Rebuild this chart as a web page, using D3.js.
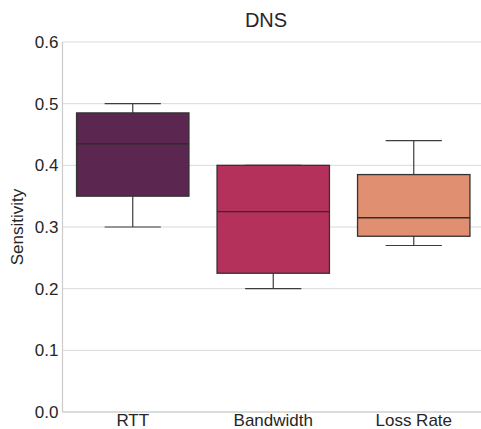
<!DOCTYPE html>
<html><head><meta charset="utf-8">
<script src="https://cdn.jsdelivr.net/npm/d3@7"></script>
<style>body{margin:0;background:#fff}svg{display:block;font-family:"Liberation Sans",Arial,sans-serif}</style>
</head><body><svg id="c" width="481" height="429"></svg>
<script>
const categories = ["RTT", "Bandwidth", "Loss Rate"];
const whiskerLow = [0.30, 0.20, 0.27];
const q1 = [0.35, 0.225, 0.285];
const median = [0.435, 0.325, 0.315];
const q3 = [0.485, 0.40, 0.385];
const whiskerHigh = [0.50, 0.40, 0.44];
const colors = ["#5B2750", "#B3315A", "#E08F70"];
const yTicks = [0.0, 0.1, 0.2, 0.3, 0.4, 0.5, 0.6];

const svg = d3.select("#c");
const mLeft = 62.5, mRight = 484, mTop = 42, mBottom = 412;
const x = d3.scaleBand().domain(categories).range([mLeft, mRight]).paddingInner(0).paddingOuter(0);
const y = d3.scaleLinear().domain([0, 0.6]).range([mBottom, mTop]);
const FONT = "Liberation Sans, Arial, sans-serif";

// grid
svg.append("g").selectAll("line").data(yTicks).join("line")
  .attr("x1", mLeft).attr("x2", mRight)
  .attr("y1", d => y(d)).attr("y2", d => y(d))
  .attr("stroke", "#d9d9d9").attr("stroke-width", 1);

// spines
svg.append("line").attr("x1", mLeft).attr("x2", mLeft).attr("y1", mTop).attr("y2", mBottom)
  .attr("stroke", "#cccccc").attr("stroke-width", 1.2);
svg.append("line").attr("x1", mLeft).attr("x2", mRight).attr("y1", mBottom).attr("y2", mBottom)
  .attr("stroke", "#cccccc").attr("stroke-width", 1.2);

// y axis labels
const yAxis = d3.axisLeft(y).tickValues(yTicks).tickFormat(d3.format(".1f")).tickSize(0).tickPadding(4);
const ya = svg.append("g").attr("transform", `translate(${mLeft},0)`).call(yAxis)
  .attr("font-size", 17).attr("font-family", FONT);
ya.select(".domain").remove();
ya.selectAll("text").attr("fill", "#262626");

// x axis labels
const xAxis = d3.axisBottom(x).tickSize(0).tickPadding(1.5);
const xa = svg.append("g").attr("transform", `translate(0,${mBottom})`).call(xAxis)
  .attr("font-size", 17).attr("font-family", FONT);
xa.select(".domain").remove();
xa.selectAll("text").attr("fill", "#262626");

// boxes
const bw = x.bandwidth() * 0.8;
const data = categories.map((c, i) => ({c, lo: whiskerLow[i], q1: q1[i], med: median[i], q3: q3[i], hi: whiskerHigh[i], col: colors[i]}));
const g = svg.append("g").selectAll("g").data(data).join("g")
  .attr("transform", d => `translate(${x(d.c) + x.bandwidth() / 2},0)`);
const wc = "#3d3d3d";
g.append("line").attr("x1", 0).attr("x2", 0).attr("y1", d => y(d.q3)).attr("y2", d => y(d.hi)).attr("stroke", wc).attr("stroke-width", 1.2);
g.append("line").attr("x1", 0).attr("x2", 0).attr("y1", d => y(d.q1)).attr("y2", d => y(d.lo)).attr("stroke", wc).attr("stroke-width", 1.2);
g.append("line").attr("x1", -bw / 4).attr("x2", bw / 4).attr("y1", d => y(d.hi)).attr("y2", d => y(d.hi)).attr("stroke", wc).attr("stroke-width", 1.2);
g.append("line").attr("x1", -bw / 4).attr("x2", bw / 4).attr("y1", d => y(d.lo)).attr("y2", d => y(d.lo)).attr("stroke", wc).attr("stroke-width", 1.2);
g.append("rect").attr("x", -bw / 2).attr("width", bw)
  .attr("y", d => y(d.q3)).attr("height", d => y(d.q1) - y(d.q3))
  .attr("fill", d => d.col).attr("stroke", "#333333").attr("stroke-width", 1.3);
g.append("line").attr("x1", -bw / 2).attr("x2", bw / 2).attr("y1", d => y(d.med)).attr("y2", d => y(d.med)).attr("stroke", "#2e2e2e").attr("stroke-width", 1.3);

// title
svg.append("text").attr("x", 266).attr("y", 27).attr("text-anchor", "middle")
  .attr("font-size", 20).attr("font-family", FONT).attr("fill", "#262626").text("DNS");
// y label
svg.append("text").attr("transform", `translate(23,${(mTop + mBottom) / 2}) rotate(-90)`)
  .attr("text-anchor", "middle").attr("font-size", 17).attr("font-family", FONT).attr("fill", "#262626").text("Sensitivity");
</script></body></html>
